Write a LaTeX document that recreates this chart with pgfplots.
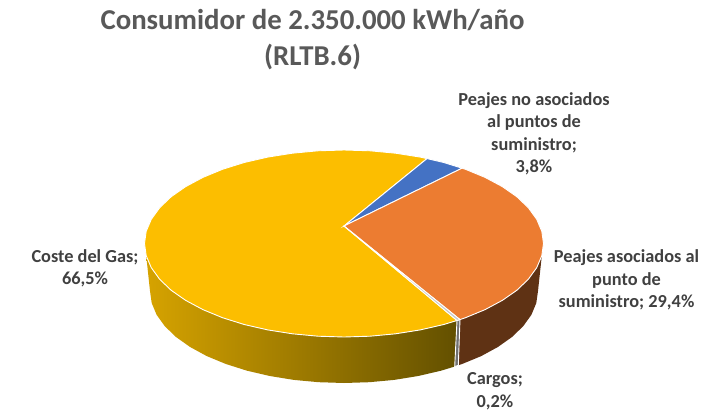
\documentclass[border=0pt]{standalone}
\usepackage{pgfplots}
\pgfplotsset{compat=1.18}
\usepackage{fontspec}
\setmainfont{Carlito}
\definecolor{gasyellow}{HTML}{FCBE00}
\definecolor{peajeorange}{HTML}{EC7C31}
\definecolor{peajeblue}{HTML}{4472C4}
\definecolor{orangewall}{HTML}{5F3214}
\definecolor{greywall}{HTML}{707070}
\definecolor{greytop}{HTML}{C8C8C8}
\definecolor{walllight}{HTML}{D6A300}
\definecolor{walldark}{HTML}{635000}
\definecolor{labelgrey}{HTML}{404040}
\definecolor{titlegrey}{HTML}{595959}
\tikzset{labelstyle/.style={font={\fontsize{18.4}{22.6}\selectfont\bfseries}, text=labelgrey, align=center, inner sep=0pt}}
\begin{document}
\begin{tikzpicture}
\useasboundingbox (0,0) rectangle (718bp,412bp);
\begin{axis}[scale only axis, width=718bp, height=412bp,
  xmin=0, xmax=718, ymin=0, ymax=412, y dir=reverse,
  hide axis, clip=false]
% side walls, in picture pixels
\addplot[draw=none, left color=walllight, right color=walldark] coordinates {
  (146.2,255.7)(151.3,267.7)(159.7,279.3)(171.2,290.3)(185.7,300.4)(202.9,309.6)
  (222.5,317.7)(244.2,324.5)(267.7,329.9)(292.4,333.8)(318.0,336.2)(344,337)
  (370.0,336.2)(395.6,333.8)(420.3,329.9)(443.8,324.5)(457,320.5)
  (454.7,366.5)(441,370.7)(418.2,376)(394.2,379.9)(369.3,382.2)(344,383)
  (318.7,382.2)(293.8,379.9)(269.8,376)(247,370.7)(225.9,364)(206.8,356.1)
  (190.1,347)(176,337)(164.8,326.2)(156.6,314.8)(151.7,303)(150,291)} --cycle;
\addplot[draw=none, fill=orangewall] coordinates {
  (460,319.6)(465.5,317.7)(485.1,309.6)(502.3,300.4)(516.8,290.3)(528.3,279.3)
  (536.7,267.7)(541.8,255.7)(538,291)(536.3,303)(531.4,314.8)(523.2,326.2)
  (512,337)(497.9,347)(481.2,356.1)(462.1,364)(458.3,365.3)} --cycle;
\addplot[draw=white, line width=0.9bp, fill=greywall] coordinates {
  (457,320.5)(460,319.6)(458.3,365.3)(454.7,366.5)} --cycle;
% top faces
\addplot[draw=white, line width=0.9bp, fill=gasyellow] coordinates {
  (344,226)(457,320.5)(443.8,324.5)(420.3,329.9)(395.6,333.8)(370.0,336.2)(344,337)
  (318.0,336.2)(292.4,333.8)(267.7,329.9)(244.2,324.5)(222.5,317.7)(202.9,309.6)
  (185.7,300.4)(171.2,290.3)(159.7,279.3)(151.3,267.7)(146.2,255.7)(144.5,243.5)
  (146.2,231.3)(151.3,219.3)(159.7,207.7)(171.2,196.7)(185.7,186.6)(202.9,177.4)
  (222.5,169.3)(244.2,162.5)(267.7,157.1)(292.4,153.2)(318.0,150.8)(344,150)
  (370.0,150.8)(395.6,153.2)(420.3,157.1)(427,158.6)} --cycle;
\addplot[draw=white, line width=0.9bp, fill=peajeblue] coordinates {
  (344,226)(427,158.6)(443.8,162.5)(462,168.2)} --cycle;
\addplot[draw=white, line width=0.9bp, fill=peajeorange] coordinates {
  (344,226)(462,168.2)(465.5,169.3)(485.1,177.4)(502.3,186.6)(516.8,196.7)
  (528.3,207.7)(536.7,219.3)(541.8,231.3)(543.5,243.5)(541.8,255.7)(536.7,267.7)
  (528.3,279.3)(516.8,290.3)(502.3,300.4)(485.1,309.6)(465.5,317.7)(460,319.6)} --cycle;
\addplot[draw=white, line width=0.9bp, fill=greytop] coordinates {
  (344,226)(460,319.6)(457,320.5)} --cycle;
% texts
\node[font={\fontsize{28.9}{36.5}\selectfont\bfseries}, text=titlegrey, align=center, inner sep=0pt]
  at (axis cs:312.5,39.5) {Consumidor de 2.350.000 kWh/año\\(RLTB.6)};
\node[labelstyle] at (axis cs:534,134) {Peajes no asociados\\al puntos de\\suministro;\\3,8\%};
\node[labelstyle] at (axis cs:626.5,280) {Peajes asociados al\\punto de\\suministro; 29,4\%};
\node[labelstyle] at (axis cs:495,391) {Cargos;\\0,2\%};
\node[labelstyle] at (axis cs:85,268.5) {Coste del Gas;\\66,5\%};
\end{axis}
\end{tikzpicture}
\end{document}
